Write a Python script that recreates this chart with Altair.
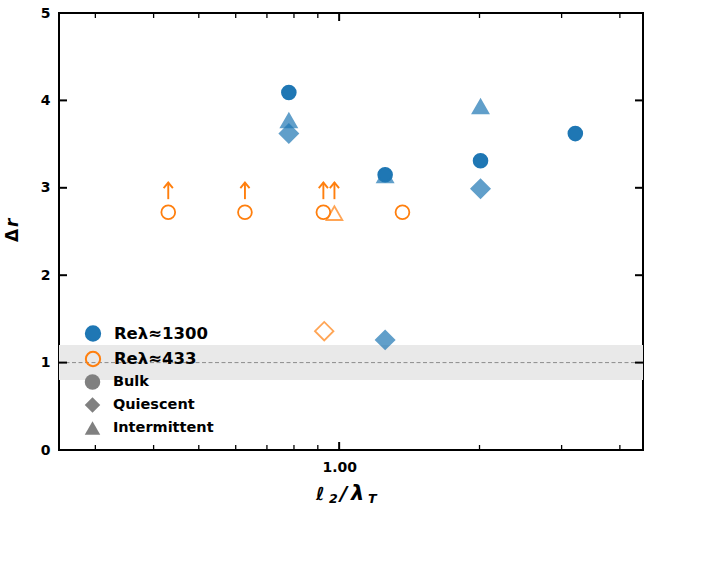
import altair as alt
import pandas as pd

# ---------------- data ----------------
types = ["Bulk", "Quiescent", "Intermittent"]
re_labels = ["Reλ≈1300", "Reλ≈433"]

re1300_bulk_x = [0.78, 1.255, 2.01, 3.21]
re1300_bulk_y = [4.09, 3.15, 3.31, 3.62]
re1300_quiet_x = [0.78, 1.255, 2.01]
re1300_quiet_y = [3.62, 1.26, 2.99]
re1300_inter_x = [0.78, 1.255, 2.01]
re1300_inter_y = [3.77, 3.14, 3.93]

re433_bulk_x = [0.43, 0.628, 0.925, 1.367]
re433_bulk_y = [2.72, 2.72, 2.72, 2.72]
re433_quiet_x = [0.929]
re433_quiet_y = [1.36]
re433_inter_x = [0.977]
re433_inter_y = [2.71]

# lower-bound arrows (Re ~ 433)
arrow_x = [0.43, 0.628, 0.925, 0.977]
arrow_base = [2.87, 2.87, 2.87, 2.87]
arrow_tip = [3.06, 3.06, 3.06, 3.06]

band_lo = [0.8]
band_hi = [1.2]
ref_line = [1.0]

y_ticks = [0, 1, 2, 3, 4, 5]
x_major = [1.0]
x_minor = [0.3, 0.4, 0.5, 0.6, 0.7, 0.8, 0.9, 2, 3, 4]
x_domain = [0.2507, 4.484]

# ---------------- tables ----------------
rows = []
def add(xs, ys, re, t):
    for a, b in zip(xs, ys):
        rows.append({"x": a, "y": b, "re": re, "type": t, "tsize": t, "topac": t})

# draw order: intermittent, quiescent, bulk
add(re1300_inter_x, re1300_inter_y, re_labels[0], "Intermittent")
add(re433_inter_x, re433_inter_y, re_labels[1], "Intermittent")
add(re1300_quiet_x, re1300_quiet_y, re_labels[0], "Quiescent")
add(re433_quiet_x, re433_quiet_y, re_labels[1], "Quiescent")
add(re1300_bulk_x, re1300_bulk_y, re_labels[0], "Bulk")
add(re433_bulk_x, re433_bulk_y, re_labels[1], "Bulk")
df = pd.DataFrame(rows)

arrows = pd.DataFrame({"x": arrow_x, "y0": arrow_base, "y1": arrow_tip})
band = pd.DataFrame({"lo": band_lo, "hi": band_hi})
ref = pd.DataFrame({"v": ref_line})

W, H = 584, 437
FONT = "DejaVu Sans"
ORANGE = "#ff7f0e"
BLUE = "#1f77b4"

xscale = alt.Scale(type="log", domain=x_domain, nice=False)
yscale = alt.Scale(domain=[0, 5], nice=False)

x_axis = alt.Axis(values=x_major, format=".2f", ticks=False, tickSize=0, domain=False,
                  grid=False, labelFont=FONT, labelFontSize=14, labelFontWeight="bold",
                  labelColor="black", labelPadding=10, title=None)
y_axis = alt.Axis(values=y_ticks, format="d", ticks=False, tickSize=0, domain=False,
                  grid=False, labelFont=FONT, labelFontSize=14, labelFontWeight="bold",
                  labelColor="black", labelPadding=9, title=None)

def X(f):
    return alt.X(f, scale=xscale, axis=x_axis)

def Y(f):
    return alt.Y(f, scale=yscale, axis=y_axis)

band_layer = alt.Chart(band).mark_rect(color="#e9e9e9").encode(
    y=Y("lo:Q"), y2="hi:Q", x=alt.value(0), x2=alt.value(W))

ref_layer = alt.Chart(ref).mark_rule(color="#8c8c8c", strokeWidth=1, strokeDash=[4, 2.5]).encode(
    y=Y("v:Q"), x=alt.value(0), x2=alt.value(W))

arrow_shaft = alt.Chart(arrows).mark_rule(color=ORANGE, strokeWidth=1.9).encode(
    x=X("x:Q"), y=Y("y0:Q"), y2="y1:Q")
arrow_head = alt.Chart(arrows).mark_point(
    shape="M-1,1.2L0,0L1,1.2", filled=False, color=ORANGE, strokeWidth=1.9, size=85, opacity=1
).encode(x=X("x:Q"), y=Y("y1:Q"))

leg_common = dict(orient="none", title=None, labelFont=FONT,
                  labelFontWeight="bold", labelColor="black", padding=0, symbolOpacity=1)
re_legend = alt.Legend(legendX=25.5, legendY=312, symbolSize=205, symbolStrokeWidth=2,
                       labelFontSize=16.5, rowPadding=2.5, labelOffset=12.4, **leg_common)

# size / opacity scales use data-derived (alphabetical) domains: Bulk, Intermittent, Quiescent
pts = alt.Chart(df).mark_point(strokeWidth=1.8).encode(
    x=X("x:Q"),
    y=Y("y:Q"),
    fill=alt.Fill("re:N", scale=alt.Scale(domain=re_labels, range=[BLUE, "transparent"]),
                  legend=re_legend),
    stroke=alt.Stroke("re:N", scale=alt.Scale(domain=re_labels, range=[BLUE, ORANGE]),
                      legend=re_legend),
    shape=alt.Shape("type:N", scale=alt.Scale(domain=types, range=["circle", "diamond", "triangle-up"]),
                    legend=alt.Legend(legendX=25.5, legendY=361, symbolSize=240,
                                      symbolFillColor="#808080", symbolStrokeColor="#808080",
                                      symbolStrokeWidth=0, labelFontSize=14.5,
                                      rowPadding=7, labelOffset=12.4, **leg_common)),
    size=alt.Size("tsize:N", scale=alt.Scale(type="ordinal", range=[190, 250, 340]), legend=None),
    opacity=alt.Opacity("topac:N", scale=alt.Scale(type="ordinal", range=[1.0, 0.7, 0.7]), legend=None),
    order=alt.Order("ord:Q"),
).transform_window(ord="row_number()")

# inward ticks on all four sides
yt = pd.DataFrame({"v": y_ticks})
xm = pd.DataFrame({"v": x_major})
xn = pd.DataFrame({"v": x_minor})
ytick_l = alt.Chart(yt).mark_rule(color="black", strokeWidth=2).encode(
    y=Y("v:Q"), x=alt.value(0), x2=alt.value(8))
ytick_r = alt.Chart(yt).mark_rule(color="black", strokeWidth=2).encode(
    y=Y("v:Q"), x=alt.value(W), x2=alt.value(W - 8))
xmaj_b = alt.Chart(xm).mark_rule(color="black", strokeWidth=2).encode(
    x=X("v:Q"), y=alt.value(H), y2=alt.value(H - 8))
xmaj_t = alt.Chart(xm).mark_rule(color="black", strokeWidth=2).encode(
    x=X("v:Q"), y=alt.value(0), y2=alt.value(8))
xmin_b = alt.Chart(xn).mark_rule(color="black", strokeWidth=1.3).encode(
    x=X("v:Q"), y=alt.value(H), y2=alt.value(H - 5))
xmin_t = alt.Chart(xn).mark_rule(color="black", strokeWidth=1.3).encode(
    x=X("v:Q"), y=alt.value(0), y2=alt.value(5))

# axis titles (mathtext-like pieces)
title_df = pd.DataFrame({"l": ["ℓ"], "two": ["2"], "sl": ["/"], "lam": ["λ"], "T": ["T"],
                         "c": ["Δ"], "d": ["r"]})
def piece(field, xpos, ypos, size, style="italic", angle=None):
    kw = dict(align="left", baseline="alphabetic", font=FONT, fontSize=size,
              fontWeight="bold", fontStyle=style, color="black")
    if angle is not None:
        kw["angle"] = angle
    return alt.Chart(title_df).mark_text(**kw).encode(
        text=f"{field}:N", x=alt.value(xpos), y=alt.value(ypos))

xt_l = piece("l", 257, 487, 18)
xt_2 = piece("two", 270, 490, 12.6)
xt_sl = piece("sl", 281, 487, 20)
xt_lam = piece("lam", 292, 487, 21)
xt_T = piece("T", 309, 490, 12.6)
yt_a = piece("c", -41, 229, 17, style="normal", angle=270)
yt_b = piece("d", -41, 214, 17, angle=270)

chart = alt.layer(
    band_layer, ref_layer, arrow_shaft, arrow_head, pts,
    ytick_l, ytick_r, xmaj_b, xmaj_t, xmin_b, xmin_t,
    xt_l, xt_2, xt_sl, xt_lam, xt_T, yt_a, yt_b,
).properties(
    width=W, height=H,
    autosize=alt.AutoSizeParams(type="none"),
    padding={"left": 59, "top": 13, "right": 78, "bottom": 116},
    background="white",
).configure_view(stroke="black", strokeWidth=2)

chart.save("out.html", embed_options={"renderer": "svg", "actions": False})
